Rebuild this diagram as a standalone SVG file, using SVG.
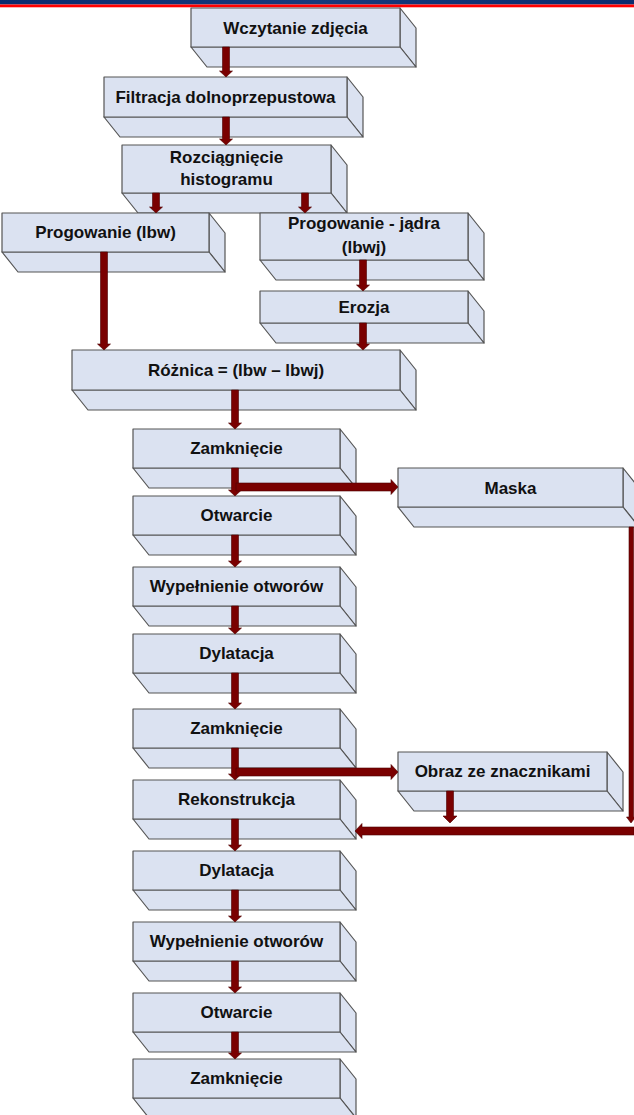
<svg xmlns="http://www.w3.org/2000/svg" width="634" height="1115" viewBox="0 0 634 1115">
<style>
.f{fill:#dbe2f1;stroke:#555;stroke-width:1.2;stroke-linejoin:round}
.t{font-family:"Liberation Sans",Arial,sans-serif;font-weight:bold;font-size:17px;fill:#111;text-anchor:middle}
.a{fill:#7a0000;stroke:#4d0000;stroke-width:0.6;stroke-linejoin:miter}
</style>
<defs>
<linearGradient id="bn" x1="0" y1="0" x2="1" y2="0">
<stop offset="0" stop-color="#0a2b6e"/><stop offset="0.5" stop-color="#163a7c"/><stop offset="1" stop-color="#0a2b6e"/>
</linearGradient>
</defs>
<rect x="0" y="0" width="634" height="4.5" fill="url(#bn)"/>
<rect x="0" y="4.5" width="634" height="2.8" fill="#ff0000"/>

<g id="n1">
<polygon class="f" points="400,8 416,28 416,67 400,47"/>
<polygon class="f" points="191,47 400,47 416,67 207,67"/>
<rect class="f" x="191" y="8" width="209" height="39"/>
<text class="t" x="295.5" y="33.5">Wczytanie zdjęcia</text>
</g>
<g id="n2">
<polygon class="f" points="347,77 363,97 363,137 347,117"/>
<polygon class="f" points="104,117 347,117 363,137 120,137"/>
<rect class="f" x="104" y="77" width="243" height="40"/>
<text class="t" x="225.5" y="103">Filtracja dolnoprzepustowa</text>
</g>
<g id="n3">
<polygon class="f" points="331,145 347,165 347,213 331,193"/>
<polygon class="f" points="122,193 331,193 347,213 138,213"/>
<rect class="f" x="122" y="145" width="209" height="48"/>
<text class="t" x="226.5" y="163">Rozciągnięcie</text>
<text class="t" x="226.5" y="185">histogramu</text>
</g>
<g id="n4">
<polygon class="f" points="209,213 225,233 225,272 209,252"/>
<polygon class="f" points="2,252 209,252 225,272 18,272"/>
<rect class="f" x="2" y="213" width="207" height="39"/>
<text class="t" x="105.5" y="238">Progowanie (lbw)</text>
</g>
<g id="n5">
<polygon class="f" points="468,213 484,233 484,280 468,260"/>
<polygon class="f" points="260,260 468,260 484,280 276,280"/>
<rect class="f" x="260" y="213" width="208" height="47"/>
<text class="t" x="364" y="229">Progowanie - jądra</text>
<text class="t" x="364" y="253">(lbwj)</text>
</g>
<g id="n6">
<polygon class="f" points="468,291 484,311 484,343 468,323"/>
<polygon class="f" points="260,323 468,323 484,343 276,343"/>
<rect class="f" x="260" y="291" width="208" height="32"/>
<text class="t" x="364" y="313">Erozja</text>
</g>
<g id="n7">
<polygon class="f" points="400,350 416,370 416,410 400,390"/>
<polygon class="f" points="72,390 400,390 416,410 88,410"/>
<rect class="f" x="72" y="350" width="328" height="40"/>
<text class="t" x="236" y="376">Różnica = (lbw – lbwj)</text>
</g>
<g id="n8">
<polygon class="f" points="340,429 356,449 356,488 340,468"/>
<polygon class="f" points="133,468 340,468 356,488 149,488"/>
<rect class="f" x="133" y="429" width="207" height="39"/>
<text class="t" x="236.5" y="454">Zamknięcie</text>
</g>
<g id="n9">
<polygon class="f" points="623,468 639,488 639,527 623,507"/>
<polygon class="f" points="398,507 623,507 639,527 414,527"/>
<rect class="f" x="398" y="468" width="225" height="39"/>
<text class="t" x="510.5" y="494">Maska</text>
</g>
<g id="n10">
<polygon class="f" points="340,496 356,516 356,555 340,535"/>
<polygon class="f" points="133,535 340,535 356,555 149,555"/>
<rect class="f" x="133" y="496" width="207" height="39"/>
<text class="t" x="236.5" y="521">Otwarcie</text>
</g>
<g id="n11">
<polygon class="f" points="340,567 356,587 356,626 340,606"/>
<polygon class="f" points="133,606 340,606 356,626 149,626"/>
<rect class="f" x="133" y="567" width="207" height="39"/>
<text class="t" x="236.5" y="592">Wypełnienie otworów</text>
</g>
<g id="n12">
<polygon class="f" points="340,634 356,654 356,693 340,673"/>
<polygon class="f" points="133,673 340,673 356,693 149,693"/>
<rect class="f" x="133" y="634" width="207" height="39"/>
<text class="t" x="236.5" y="659">Dylatacja</text>
</g>
<g id="n13">
<polygon class="f" points="340,709 356,729 356,768 340,748"/>
<polygon class="f" points="133,748 340,748 356,768 149,768"/>
<rect class="f" x="133" y="709" width="207" height="39"/>
<text class="t" x="236.5" y="734">Zamknięcie</text>
</g>
<g id="n14">
<polygon class="f" points="607,752 623,772 623,811 607,791"/>
<polygon class="f" points="398,791 607,791 623,811 414,811"/>
<rect class="f" x="398" y="752" width="209" height="39"/>
<text class="t" x="502.5" y="777">Obraz ze znacznikami</text>
</g>
<g id="n15">
<polygon class="f" points="340,780 356,800 356,839 340,819"/>
<polygon class="f" points="133,819 340,819 356,839 149,839"/>
<rect class="f" x="133" y="780" width="207" height="39"/>
<text class="t" x="236.5" y="805">Rekonstrukcja</text>
</g>
<g id="n16">
<polygon class="f" points="340,851 356,871 356,910 340,890"/>
<polygon class="f" points="133,890 340,890 356,910 149,910"/>
<rect class="f" x="133" y="851" width="207" height="39"/>
<text class="t" x="236.5" y="876">Dylatacja</text>
</g>
<g id="n17">
<polygon class="f" points="340,922 356,942 356,981 340,961"/>
<polygon class="f" points="133,961 340,961 356,981 149,981"/>
<rect class="f" x="133" y="922" width="207" height="39"/>
<text class="t" x="236.5" y="947">Wypełnienie otworów</text>
</g>
<g id="n18">
<polygon class="f" points="340,993 356,1013 356,1052 340,1032"/>
<polygon class="f" points="133,1032 340,1032 356,1052 149,1052"/>
<rect class="f" x="133" y="993" width="207" height="39"/>
<text class="t" x="236.5" y="1018">Otwarcie</text>
</g>
<g id="n19">
<polygon class="f" points="340,1059 356,1079 356,1118 340,1098"/>
<polygon class="f" points="133,1098 340,1098 356,1118 149,1118"/>
<rect class="f" x="133" y="1059" width="207" height="39"/>
<text class="t" x="236.5" y="1084">Zamknięcie</text>
</g>

<g id="connectors">
<polygon class="a" points="222.5,47 229.5,47 229.5,71 232.5,71 226,77 219.5,71 222.5,71"/>
<polygon class="a" points="222.5,117 229.5,117 229.5,139 232.5,139 226,145 219.5,139 222.5,139"/>
<polygon class="a" points="152.5,193 159.5,193 159.5,207 162.5,207 156,213 149.5,207 152.5,207"/>
<polygon class="a" points="301.5,193 308.5,193 308.5,207 311.5,207 305,213 298.5,207 301.5,207"/>
<polygon class="a" points="100.5,252 107.5,252 107.5,344 110.5,344 104,350 97.5,344 100.5,344"/>
<polygon class="a" points="359.5,260 366.5,260 366.5,285 369.5,285 363,291 356.5,285 359.5,285"/>
<polygon class="a" points="359.5,323 366.5,323 366.5,344 369.5,344 363,350 356.5,344 359.5,344"/>
<polygon class="a" points="231.5,390 238.5,390 238.5,423 241.5,423 235,429 228.5,423 231.5,423"/>
<polygon class="a" points="231.5,468 238.5,468 238.5,490 241.5,490 235,496 228.5,490 231.5,490"/>
<polygon class="a" points="236,483 391,483 391,479.5 398,487 391,494.5 391,491 236,491"/>
<polygon class="a" points="231.5,535 238.5,535 238.5,561 241.5,561 235,567 228.5,561 231.5,561"/>
<polygon class="a" points="231.5,606 238.5,606 238.5,628 241.5,628 235,634 228.5,628 231.5,628"/>
<polygon class="a" points="231.5,673 238.5,673 238.5,703 241.5,703 235,709 228.5,703 231.5,703"/>
<polygon class="a" points="231.5,748 238.5,748 238.5,774 241.5,774 235,780 228.5,774 231.5,774"/>
<polygon class="a" points="236,768 391,768 391,764.5 398,772 391,779.5 391,776 236,776"/>
<polygon class="a" points="446.5,791 453.5,791 453.5,816 457,816 450,823 443,816 446.5,816"/>
<polygon class="a" points="629,527 633.5,527 633.5,817 635.5,817 631,823 626.5,817 629,817"/>
<polygon class="a" points="634,827 362,827 362,823.5 355,831 362,838.5 362,835 634,835"/>
<polygon class="a" points="231.5,819 238.5,819 238.5,845 241.5,845 235,851 228.5,845 231.5,845"/>
<polygon class="a" points="231.5,890 238.5,890 238.5,916 241.5,916 235,922 228.5,916 231.5,916"/>
<polygon class="a" points="231.5,961 238.5,961 238.5,987 241.5,987 235,993 228.5,987 231.5,987"/>
<polygon class="a" points="231.5,1032 238.5,1032 238.5,1053 241.5,1053 235,1059 228.5,1053 231.5,1053"/>
</g>
</svg>
